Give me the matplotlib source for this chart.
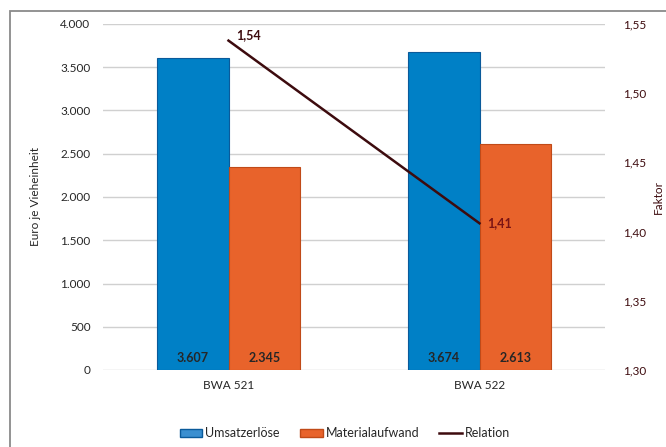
import numpy as np
import matplotlib
matplotlib.use("Agg")
import matplotlib.pyplot as plt
from matplotlib.lines import Line2D
from matplotlib.patches import Patch, Rectangle

plt.rcParams["font.family"] = ["Lato", "DejaVu Sans"]

categories = ["BWA 521", "BWA 522"]
umsatz = [3607, 3674]
material = [2345, 2613]
relation = [1.538, 1.406]
umsatz_labels = ["3.607", "3.674"]
material_labels = ["2.345", "2.613"]
relation_labels = ["1,54", "1,41"]
left_ticks = [0, 500, 1000, 1500, 2000, 2500, 3000, 3500, 4000]
left_ticklabels = ["0", "500", "1.000", "1.500", "2.000", "2.500", "3.000", "3.500", "4.000"]
right_ticks = [1.30, 1.35, 1.40, 1.45, 1.50, 1.55]
right_ticklabels = ["1,30", "1,35", "1,40", "1,45", "1,50", "1,55"]

BLUE = "#0080c6"
BLUE_EDGE = "#0a5a9a"
ORANGE = "#e8632b"
ORANGE_EDGE = "#c04a18"
LINE = "#3d0b0e"
TEXT = "#262626"
RIGHT_TEXT = "#3d0b0e"
FS = 8.5

W, H = 666, 447
fig = plt.figure(figsize=(W / 100, H / 100), dpi=100)

# Rahmen um das Diagramm
fig.patches.append(Rectangle((10 / W, -0.01), 1.0, 1 - 11 / H + 0.01,
                             transform=fig.transFigure, fill=False,
                             edgecolor="#8a8a8a", linewidth=1.3))

ax = fig.add_axes([103 / W, 1 - 370 / H, (605 - 103) / W, (370 - 24) / H])
x = np.arange(len(categories))
bw = 0.285

ax.bar(x - bw / 2, umsatz, bw, color=BLUE, edgecolor=BLUE_EDGE, linewidth=0.8, zorder=2)
ax.bar(x + bw / 2, material, bw, color=ORANGE, edgecolor=ORANGE_EDGE, linewidth=0.8, zorder=2)
for i in range(len(categories)):
    ax.text(x[i] - bw / 2, 140, umsatz_labels[i], ha="center", va="center",
            fontsize=9, fontweight="bold", color=TEXT, zorder=4)
    ax.text(x[i] + bw / 2, 140, material_labels[i], ha="center", va="center",
            fontsize=9, fontweight="bold", color=TEXT, zorder=4)

ax.set_xlim(-0.5, 1.5)
ax.set_ylim(0, 4000)
ax.set_yticks(left_ticks)
ax.set_yticklabels(left_ticklabels)
ax.set_xticks(x)
ax.set_xticklabels(categories)
ax.yaxis.grid(True, color="#d0d0d0", linewidth=1.0, zorder=0)
ax.set_axisbelow(True)
for s in ax.spines.values():
    s.set_visible(False)
ax.tick_params(axis="both", length=0, labelsize=FS, colors=TEXT)
ax.tick_params(axis="y", pad=9)
ax.tick_params(axis="x", pad=7)
ax.set_ylabel("Euro je Vieheinheit", fontsize=FS, color=TEXT, labelpad=14)

ax2 = ax.twinx()
ax2.plot(x, relation, color=LINE, linewidth=1.8, zorder=5)
ax2.text(x[0] + 0.03, relation[0], relation_labels[0], ha="left", va="bottom",
         fontsize=9, fontweight="bold", color=LINE)
ax2.text(x[1] + 0.03, relation[1], relation_labels[1], ha="left", va="center",
         fontsize=9, fontweight="bold", color="#7a1414")
ax2.set_ylim(1.30, 1.55)
ax2.set_yticks(right_ticks)
ax2.set_yticklabels(right_ticklabels)
for s in ax2.spines.values():
    s.set_visible(False)
ax2.tick_params(axis="y", length=0, labelsize=FS, colors=RIGHT_TEXT, pad=13)
ax2.set_ylabel("Faktor", fontsize=FS, color=RIGHT_TEXT, labelpad=5)

handles = [
    Patch(facecolor="#3a8fd0", edgecolor=BLUE_EDGE, label="Umsatzerlöse"),
    Patch(facecolor=ORANGE, edgecolor=ORANGE_EDGE, label="Materialaufwand"),
    Line2D([0], [0], color=LINE, linewidth=1.8, label="Relation"),
]
fig.legend(handles=handles, loc="center", bbox_to_anchor=(345 / W, 1 - 433 / H),
           ncol=3, frameon=False, fontsize=9, handlelength=1.8, handleheight=0.6,
           handletextpad=0.25, columnspacing=1.6, labelcolor=TEXT)

fig.savefig("out.png", dpi=100)
